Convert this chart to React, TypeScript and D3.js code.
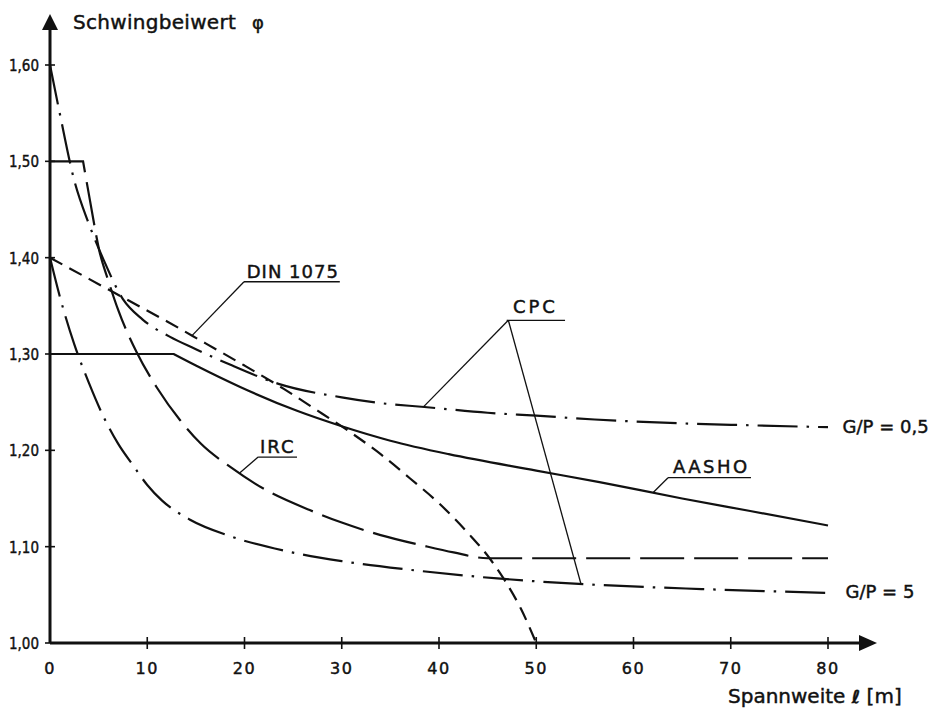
import React from 'react';
import * as d3 from 'd3';

// Axis ticks
const spanTicks = [0, 10, 20, 30, 40, 50, 60, 70, 80];
const phiTicks = [1.0, 1.1, 1.2, 1.3, 1.4, 1.5, 1.6];
const phiTickLabels = ['1,00', '1,10', '1,20', '1,30', '1,40', '1,50', '1,60'];

// DIN 1075 (short dashes)
const dinSpan = [0, 4, 8, 12, 16, 20, 24, 28, 31, 34, 37, 40, 43, 45.2, 46.7, 48.4, 50];
const dinPhi = [1.4, 1.378, 1.356, 1.334, 1.311, 1.288, 1.264, 1.238, 1.218, 1.196, 1.171, 1.145, 1.114, 1.088, 1.066, 1.036, 1.0];

// AASHO (solid): flat part then curve
const aashoFlatSpan = [0, 12.7];
const aashoFlatPhi = [1.3, 1.3];
const aashoSpan = [12.7, 15, 19.5, 25.4, 30, 35, 41, 50, 56.5, 65, 72, 80];
const aashoPhi = [1.3, 1.288, 1.266, 1.241, 1.225, 1.21, 1.196, 1.179, 1.167, 1.15, 1.137, 1.122];

// IRC (long dashes): flat part then curve
const ircFlatSpan = [0, 3.4];
const ircFlatPhi = [1.5, 1.5];
const ircSpan = [3.4, 4.1, 5.1, 6, 7, 8.9, 11, 13.4, 15.5, 18.5, 22, 26.7, 30, 34, 38.4, 41.5, 45, 80];
const ircPhi = [1.5, 1.46, 1.406, 1.376, 1.346, 1.302, 1.265, 1.231, 1.207, 1.183, 1.16, 1.138, 1.125, 1.112, 1.101, 1.094, 1.088, 1.088];

// CPC G/P = 0,5 (dash-dot)
const cpc05Span = [0, 1, 2.5, 4, 5.5, 7.5, 9.5, 12.3, 15, 18.5, 23.5, 30, 34, 38.5, 45, 50, 56, 65, 72, 80];
const cpc05Phi = [1.6, 1.55, 1.48, 1.435, 1.398, 1.357, 1.336, 1.318, 1.305, 1.289, 1.269, 1.255, 1.249, 1.245, 1.239, 1.236, 1.232, 1.228, 1.226, 1.224];

// CPC G/P = 5 (dash-dot)
const cpc5Span = [0, 1, 2.5, 4, 5.5, 7, 8.5, 10, 11.5, 14.4, 18.5, 24, 30, 37, 46, 55, 67, 80];
const cpc5Phi = [1.4, 1.36, 1.31, 1.27, 1.235, 1.207, 1.185, 1.164, 1.148, 1.128, 1.111, 1.096, 1.085, 1.076, 1.067, 1.061, 1.056, 1.052];

const W = 934;
const H = 709;

function interp(xs: number[], ys: number[], x: number): number {
  for (let i = 0; i < xs.length - 1; i++) {
    if (x >= xs[i] && x <= xs[i + 1]) {
      const t = (x - xs[i]) / (xs[i + 1] - xs[i]);
      return ys[i] + t * (ys[i + 1] - ys[i]);
    }
  }
  return ys[ys.length - 1];
}

export default function App() {
  const x = d3.scaleLinear().domain([0, 80]).range([50, 828]);
  const y = d3.scaleLinear().domain([1.0, 1.6]).range([643, 65]);

  const lin = d3.line<[number, number]>().x(d => x(d[0])).y(d => y(d[1])).curve(d3.curveLinear);
  const smooth = d3.line<[number, number]>().x(d => x(d[0])).y(d => y(d[1])).curve(d3.curveMonotoneX);
  const zip = (a: number[], b: number[]) => a.map((v, i) => [v, b[i]] as [number, number]);

  const dinPath = smooth(zip(dinSpan, dinPhi)) || '';
  const aashoPath = (lin(zip(aashoFlatSpan, aashoFlatPhi)) || '') + (smooth(zip(aashoSpan, aashoPhi)) || '').replace(/^M/, 'L');
  const ircPath = (lin(zip(ircFlatSpan, ircFlatPhi)) || '') + (smooth(zip(ircSpan, ircPhi)) || '').replace(/^M/, 'L');
  const cpc05Path = smooth(zip(cpc05Span, cpc05Phi)) || '';
  const cpc5Path = smooth(zip(cpc5Span, cpc5Phi)) || '';

  const ink = '#111';
  const font = "'DejaVu Sans', 'Liberation Sans', sans-serif";

  // annotation anchors in data units
  const dinTouch = 14.6;
  const cpcTouch05 = 38.4;
  const cpcTouch5 = 54.6;
  const ircTouch = 19.5;
  const aashoTouch = 62;

  const axisY0 = y(1.0);
  const axisX0 = x(0);
  const textStroke = { stroke: ink, strokeWidth: 0.45 };

  return (
    <svg width={W} height={H} style={{ position: 'absolute', left: 0, top: 0, background: '#fff' }} fontFamily={font}>
      <rect x={0} y={0} width={W} height={H} fill="#fff" />

      {/* curves */}
      <g fill="none" stroke={ink} strokeWidth={2.2}>
        <path d={cpc05Path} strokeDasharray="40 9 2.5 9" />
        <path d={cpc5Path} strokeDasharray="40 9 2.5 9" />
        <path d={dinPath} strokeDasharray="14 8" />
        <path d={ircPath} strokeDasharray="44 10" />
        <path d={aashoPath} />
      </g>

      {/* axes */}
      <line x1={axisX0} y1={axisY0} x2={axisX0} y2={26} stroke={ink} strokeWidth={3} />
      <polygon points={`${axisX0},14 ${axisX0 - 8},30 ${axisX0 + 8},30`} fill={ink} />
      <line x1={axisX0} y1={axisY0} x2={862} y2={axisY0} stroke={ink} strokeWidth={3} />
      <polygon points={`877,${axisY0} 859,${axisY0 - 8} 859,${axisY0 + 8}`} fill={ink} />

      {/* y ticks */}
      {phiTicks.map((t, i) => (
        <g key={'yt' + i}>
          <line x1={axisX0 - 5} x2={axisX0 + 5} y1={y(t)} y2={y(t)} stroke={ink} strokeWidth={1.6} />
          <text x={39} y={y(t) + 6} textAnchor="end" fontSize={16} fill={ink} {...textStroke} textLength={30} lengthAdjust="spacingAndGlyphs">
            {phiTickLabels[i]}
          </text>
        </g>
      ))}

      {/* x ticks */}
      {spanTicks.map((t, i) => (
        <g key={'xt' + i}>
          {t > 0 && <line x1={x(t)} x2={x(t)} y1={axisY0 - 6} y2={axisY0 + 6} stroke={ink} strokeWidth={1.6} />}
          <text x={x(t)} y={axisY0 + 31} textAnchor="middle" fontSize={16} fill={ink} {...textStroke} letterSpacing={1.5}>
            {String(t)}
          </text>
        </g>
      ))}

      {/* axis titles */}
      <text x={73} y={29} fontSize={20} fill={ink} {...textStroke} letterSpacing={0.3}>Schwingbeiwert</text>
      <text x={252} y={29} fontSize={18} fill={ink} {...textStroke}>φ</text>
      <text x={728} y={703} fontSize={20} fill={ink} {...textStroke}>Spannweite <tspan fontSize={18} fontWeight="bold">ℓ</tspan> [m]</text>

      {/* annotations */}
      <g stroke={ink} strokeWidth={1.3} fill="none">
        {/* DIN 1075 */}
        <line x1={x(19.95)} y1={y(1.375)} x2={x(29.8)} y2={y(1.375)} />
        <line x1={x(19.95)} y1={y(1.375)} x2={x(dinTouch)} y2={y(interp(dinSpan, dinPhi, dinTouch))} />
        {/* CPC */}
        <line x1={x(46.96)} y1={y(1.335)} x2={x(52.96)} y2={y(1.335)} />
        <line x1={x(47.13)} y1={y(1.335)} x2={x(cpcTouch05)} y2={y(interp(cpc05Span, cpc05Phi, cpcTouch05))} />
        <line x1={x(47.13)} y1={y(1.335)} x2={x(cpcTouch5)} y2={y(interp(cpc5Span, cpc5Phi, cpcTouch5))} />
        {/* IRC */}
        <line x1={x(21.4)} y1={y(1.193)} x2={x(25.4)} y2={y(1.193)} />
        <line x1={x(21.4)} y1={y(1.193)} x2={x(ircTouch)} y2={y(interp(ircSpan, ircPhi, ircTouch))} />
        {/* AASHO */}
        <line x1={x(63.55)} y1={y(1.1716)} x2={x(72.08)} y2={y(1.1716)} />
        <line x1={x(63.55)} y1={y(1.1716)} x2={x(aashoTouch)} y2={y(interp(aashoSpan, aashoPhi, aashoTouch))} />
      </g>
      <g fill={ink} fontSize={18} {...textStroke}>
        <text x={x(20.23)} y={y(1.3855) + 6.5} letterSpacing={1}>DIN 1075</text>
        <text x={x(47.6)} y={y(1.349) + 6.5} letterSpacing={3}>CPC</text>
        <text x={x(21.6)} y={y(1.204) + 6.5} letterSpacing={2}>IRC</text>
        <text x={x(64.06)} y={y(1.1827) + 6.5} letterSpacing={2.5}>AASHO</text>
        <text x={x(81.5)} y={y(1.2245) + 6.5}>G/P = 0,5</text>
        <text x={x(81.8)} y={y(1.053) + 6.5}>G/P = 5</text>
      </g>
    </svg>
  );
}
